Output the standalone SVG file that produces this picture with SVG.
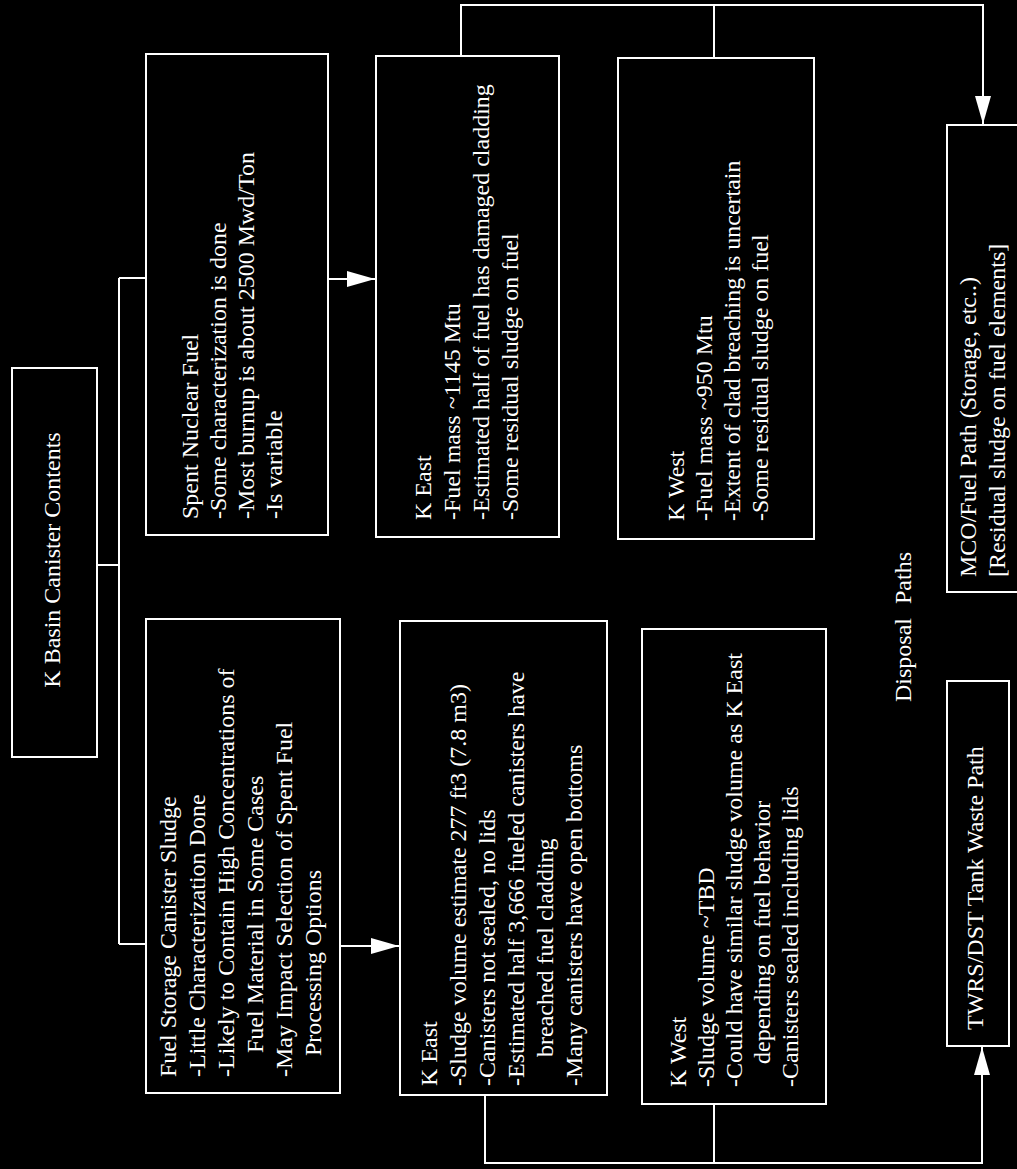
<svg xmlns="http://www.w3.org/2000/svg" width="1017" height="1169" viewBox="0 0 1017 1169">
<style>
.box{fill:#000;stroke:#fff;stroke-width:2}
.ln{fill:none;stroke:#fff;stroke-width:2}
text{font-family:"Liberation Serif","Times New Roman",serif;font-size:24px;fill:#fff}
</style>
<defs>
<marker id="ah" viewBox="0 0 28 16" refX="28" refY="8" markerWidth="28" markerHeight="16" markerUnits="userSpaceOnUse" orient="auto">
<path d="M0,0 L28,8 L0,16 Z" fill="#fff"/>
</marker>
</defs>
<rect width="1017" height="1169" fill="#000"/>
<g id="connectors">
<path class="ln" d="M97,565 H119"/>
<path class="ln" d="M119,278 V944"/>
<path class="ln" d="M119,278 H146"/>
<path class="ln" d="M119,944 H146"/>
<path class="ln" d="M328,279 H375" marker-end="url(#ah)"/>
<path class="ln" d="M340,946 H399" marker-end="url(#ah)"/>
<path class="ln" d="M461,56 V5 H983 V124" marker-end="url(#ah)"/>
<path class="ln" d="M714,58 V5"/>
<path class="ln" d="M485,1095 V1163 H982 V1047" marker-end="url(#ah)"/>
<path class="ln" d="M714,1104 V1163"/>
</g>
<g id="root">
<rect class="box" x="12" y="368" width="85" height="389"/>
<text transform="translate(60,560) rotate(-90)" text-anchor="middle">K Basin Canister Contents</text>
</g>
<g id="snf">
<rect class="box" x="146" y="54" width="182" height="481"/>
<text transform="translate(198,519) rotate(-90)"><tspan x="0" y="0">Spent Nuclear Fuel</tspan><tspan x="0" y="28">-Some characterization is done</tspan><tspan x="0" y="56">-Most burnup is about 2500 Mwd/Ton</tspan><tspan x="0" y="84">-Is variable</tspan></text>
</g>
<g id="fscs">
<rect class="box" x="146" y="619" width="194" height="474"/>
<text transform="translate(176,1077) rotate(-90)"><tspan x="0" y="0">Fuel Storage Canister Sludge</tspan><tspan x="0" y="29">-Little Characterization Done</tspan><tspan x="0" y="58">-Likely to Contain High Concentrations of</tspan><tspan x="24" y="87">Fuel Material in Some Cases</tspan><tspan x="0" y="116">-May Impact Selection of Spent Fuel</tspan><tspan x="21" y="145">Processing Options</tspan></text>
</g>
<g id="keast-fuel">
<rect class="box" x="376" y="56" width="183" height="481"/>
<text transform="translate(431,520) rotate(-90)"><tspan x="0" y="0">K East</tspan><tspan x="0" y="29">-Fuel mass ~1145 Mtu</tspan><tspan x="0" y="58">-Estimated  half of fuel has damaged cladding</tspan><tspan x="0" y="87">-Some residual sludge on fuel</tspan></text>
</g>
<g id="kwest-fuel">
<rect class="box" x="618" y="58" width="196" height="481"/>
<text transform="translate(684,521) rotate(-90)"><tspan x="0" y="0">K West</tspan><tspan x="0" y="28">-Fuel mass ~950 Mtu</tspan><tspan x="0" y="56">-Extent of clad breaching is uncertain</tspan><tspan x="0" y="84">-Some residual sludge on fuel</tspan></text>
</g>
<g id="keast-sludge">
<rect class="box" x="400" y="621" width="207" height="474"/>
<text transform="translate(437,1086) rotate(-90)"><tspan x="0" y="0">K East</tspan><tspan x="0" y="29">-Sludge volume estimate 277 ft3 (7.8 m3)</tspan><tspan x="0" y="58">-Canisters not sealed, no lids</tspan><tspan x="0" y="87">-Estimated half 3,666 fueled canisters have</tspan><tspan x="29" y="116">breached fuel cladding</tspan><tspan x="0" y="145">-Many canisters have open bottoms</tspan></text>
</g>
<g id="kwest-sludge">
<rect class="box" x="642" y="629" width="184" height="475"/>
<text transform="translate(686,1087) rotate(-90)"><tspan x="0" y="0">K West</tspan><tspan x="0" y="28">-Sludge volume ~TBD</tspan><tspan x="0" y="56">-Could have similar sludge volume as K East</tspan><tspan x="23" y="84">depending on fuel behavior</tspan><tspan x="0" y="112">-Canisters sealed including lids</tspan></text>
</g>
<g id="disposal-label">
<text transform="translate(911,702) rotate(-90)" word-spacing="8">Disposal Paths</text>
</g>
<g id="twrs">
<rect class="box" x="947" y="681" width="62" height="365"/>
<text transform="translate(983,1030) rotate(-90)">TWRS/DST Tank Waste Path</text>
</g>
<g id="mco">
<rect class="box" x="947" y="125" width="90" height="467"/>
<text transform="translate(976,577) rotate(-90)"><tspan x="0" y="0">MCO/Fuel Path (Storage, etc..)</tspan><tspan x="0" y="29">[Residual sludge on fuel elements]</tspan></text>
</g>
</svg>
